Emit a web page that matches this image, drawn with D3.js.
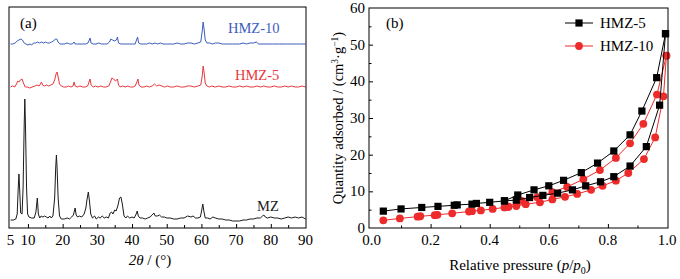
<!DOCTYPE html>
<html>
<head>
<meta charset="utf-8">
<script src="https://cdn.jsdelivr.net/npm/d3@7/dist/d3.min.js"></script>
<style>
  body { margin: 0; background: #fff; }
  svg { display: block; font-family: "Liberation Serif", "DejaVu Serif", serif; }
</style>
</head>
<body>
<svg id="chart" width="680" height="279"></svg>
<script>
// ---- panel (a): XRD patterns, [2theta, intensity a.u.] ----
const xrdMZ = [[5,8],[5.8,8],[6.5,9],[6.9,14],[7.2,40],[7.4,54],[7.6,40],[7.9,15],[8.3,14],[8.6,40],[8.9,100],[9.1,129],[9.3,100],[9.6,40],[9.9,14],[10.3,11],[11,10],[11.8,10],[12.3,16],[12.7,30],[13.0,14],[13.4,10],[13.8,12],[14.3,11],[14.8,12],[15.3,11],[15.8,10],[16.3,12],[16.7,10],[17.2,12],[17.7,30],[18.0,60],[18.2,73],[18.4,60],[18.7,30],[19.1,12],[19.6,9],[20.5,9],[21.3,10],[22,9],[22.6,11],[23.1,13],[23.6,20],[23.9,13],[24.3,11],[24.8,12],[25.5,11],[26.2,14],[26.7,20],[27.0,28],[27.4,36],[27.7,28],[28.1,14],[28.6,10],[29.2,12],[29.7,9],[30.3,11],[30.8,10],[31.4,12],[32,10],[32.6,11],[33.2,10],[33.7,15],[34.1,16],[34.5,14],[35.0,18],[35.4,17],[35.9,22],[36.4,30],[36.8,31],[37.2,24],[37.7,12],[38.2,10],[38.7,12],[39.3,10],[40.0,11],[40.6,10],[41.2,14],[41.5,17],[41.8,12],[42.3,10],[43,10],[43.8,9],[44.5,10],[45.2,11],[45.8,13],[46.3,15],[46.7,12],[47.3,12],[47.9,13],[48.5,11],[49.3,11],[50,10],[51,10],[52,9],[53,9],[54,10],[55,10],[56,12],[57,11],[57.6,12],[58.3,10],[59,10],[59.7,11],[60.1,18],[60.4,24],[60.7,17],[61.1,10],[61.8,10],[62.5,9],[63.3,11],[64,10],[65,9],[66,9],[67,8],[68,8],[69,7],[70,7],[71,7],[72,8],[73,8],[74,9],[75,9],[76,10],[77,10],[77.6,12],[78,13],[78.4,11],[79,10],[80,11],[81,10],[82,10],[83,9],[84,10],[85,11],[86,10],[87,11],[88,10],[89,11],[90,9]];

const xrdHMZ5 = [[5,8],[5.6,9],[6.2,8],[6.7,11],[7.1,14],[7.4,13],[7.8,15],[8.3,16],[8.7,12],[9.2,8],[9.8,8],[10.5,7],[11.2,8],[12,9],[12.6,10],[13.2,9],[13.6,11],[13.9,13],[14.2,10],[14.8,9],[15.4,10],[16,9],[16.6,10],[17.2,11],[17.7,15],[18.1,21],[18.4,23],[18.7,18],[19.1,11],[19.6,9],[20.3,8],[21,8],[21.7,9],[22.4,8],[23,9],[23.3,13],[23.6,9],[24.2,8],[25,9],[25.8,8],[26.5,8],[27.2,9],[27.6,13],[27.9,16],[28.2,10],[28.8,8],[29.5,9],[30.2,8],[31,9],[31.8,8],[32.5,8],[33.3,9],[33.8,13],[34.2,17],[34.7,16],[35.2,14],[35.6,15],[35.8,16],[36.1,10],[36.6,8],[37.3,9],[38,8],[38.8,9],[39.5,8],[40.3,8],[40.9,9],[41.4,13],[41.7,16],[42.0,10],[42.6,8],[43.4,8],[44.2,9],[45,8],[45.8,9],[46.5,11],[47.1,9],[47.8,10],[48.6,9],[49.4,8],[50.2,9],[51,8],[52,8],[53,9],[54,8],[55,8],[56,9],[57,9],[58,8],[59,9],[59.8,10],[60.2,18],[60.5,29],[60.8,22],[61.1,12],[61.6,9],[62.3,8],[63,9],[64,8],[65,9],[66,8],[67,8],[68,9],[69,8],[70,8],[71,9],[72,8],[73,9],[74,8],[75,8],[76,9],[77,8],[78,9],[79,8],[80,8],[81,9],[82,8],[83,8],[84,9],[85,8],[86,9],[87,8],[88,8],[89,9],[90,8]];

const xrdHMZ10 = [[5,8],[5.6,8],[6.3,9],[6.9,11],[7.4,12],[8.0,13],[8.4,12],[8.9,9],[9.4,8],[10,7],[10.6,8],[11.1,7],[11.6,9],[12.2,9],[12.8,10],[13.4,9],[14,10],[14.5,9],[15.1,10],[15.6,9],[16.2,9],[16.8,10],[17.4,11],[17.9,13],[18.3,13],[18.7,10],[19.2,8],[19.8,8],[20.5,8],[21.3,9],[22,8],[22.8,8],[23.3,10],[23.6,8],[24.3,8],[25,8],[25.8,8],[26.6,8],[27.3,9],[27.7,12],[27.9,14],[28.2,9],[28.8,8],[29.6,8],[30.4,9],[31.2,8],[32,8],[32.8,8],[33.5,10],[33.9,13],[34.4,12],[34.9,11],[35.5,12],[35.8,15],[36.1,9],[36.8,8],[37.6,8],[38.5,8],[39.3,8],[40.2,8],[40.9,8],[41.3,12],[41.6,15],[41.9,9],[42.5,8],[43.4,8],[44.2,8],[45,9],[45.8,8],[46.6,9],[47.4,8],[48.2,9],[49,8],[50,8],[51,8],[52,8],[53,9],[54,8],[55,8],[56,9],[57,9],[58,8],[59,9],[59.8,10],[60.2,20],[60.5,30],[60.8,22],[61.1,12],[61.6,9],[62.4,9],[63.2,8],[64,9],[65,9],[66,8],[67,8],[68,8],[69,8],[70,8],[71,8],[72,9],[73,8],[74,9],[75,9],[75.8,10],[76.5,8],[77.5,8],[78.5,8],[79.5,8],[80.5,8],[81.5,8],[82.5,8],[83.5,8],[84.5,8],[85.5,8],[86.5,8],[87.5,8],[88.5,8],[89.5,8],[90,8]];

const xrdNames = ["MZ", "HMZ-5", "HMZ-10"];
const xrdOffsets = [0, 133, 176];
const xrdTicks = [5, 10, 20, 30, 40, 50, 60, 70, 80, 90];

// ---- panel (b): N2 isotherms, relative pressure / quantity adsorbed ----
const hmz5AdsP = [0.04,0.10,0.17,0.225,0.28,0.29,0.34,0.355,0.40,0.45,0.49,0.535,0.58,0.63,0.68,0.725,0.775,0.82,0.875,0.93,0.975,0.995];
const hmz5AdsQ = [4.6,5.2,5.6,5.9,6.2,6.3,6.5,6.7,7.0,7.4,7.6,8.3,8.9,9.5,10.4,11.5,12.6,14.0,16.9,22.2,33.5,53];
const hmz5DesP = [0.995,0.965,0.915,0.875,0.82,0.765,0.71,0.65,0.60,0.55,0.495,0.45];
const hmz5DesQ = [53,41,31.9,25.4,21,17.7,15.1,13,11.5,10.4,9.0,7.4];

const hmz10AdsP = [0.04,0.096,0.156,0.165,0.214,0.223,0.273,0.33,0.34,0.37,0.41,0.45,0.463,0.49,0.522,0.57,0.612,0.655,0.696,0.743,0.782,0.827,0.869,0.922,0.96,0.988,0.998];
const hmz10AdsQ = [2.1,2.6,3.1,3.2,3.5,3.6,4.0,4.5,4.6,4.8,5.2,5.6,5.8,6.0,6.5,7.0,7.8,8.5,9.3,10.4,11.5,12.9,15.0,18.8,24.7,35.9,47];
const hmz10DesP = [0.998,0.966,0.92,0.875,0.827,0.773,0.717,0.662,0.612,0.561,0.508,0.463];
const hmz10DesQ = [47,36.4,28.4,23.1,19.1,15.8,13.3,11.2,9.8,8.4,7.4,5.8];

const isoTicksX = [0, 0.2, 0.4, 0.6, 0.8, 1.0];
const isoTicksY = [0, 10, 20, 30, 40, 50, 60];

const svg = d3.select("#chart");

// ================= panel (a) =================
const ax = d3.scaleLinear().domain([5, 90]).range([10.6, 305.5]);
const ay = d3.scaleLinear().domain([0, 221]).range([228, 7]);
const aColors = ["#1a1a1a", "#e8383d", "#3b5dbd"];

const pa = svg.append("g");

// ticks inward
const aTickAxis = d3.axisTop(ax)
    .tickValues(d3.range(10, 90, 5))
    .tickSize(4).tickFormat("");
pa.append("g").attr("transform", "translate(0,228)").call(aTickAxis)
    .call(g => g.select(".domain").remove())
    .call(g => g.selectAll("line").attr("stroke", "#000")
        .attr("y2", d => d % 10 === 0 ? -4 : -3));

pa.selectAll(".alab").data(xrdTicks).enter().append("text")
    .attr("x", d => ax(d))
    .attr("y", 245)
    .attr("text-anchor", "middle")
    .attr("font-size", 15)
    .text(d => d);

const aLine = d3.line().x(d => ax(d[0])).y(d => ay(d[1]));
[xrdMZ, xrdHMZ5, xrdHMZ10].forEach((s, i) => {
  pa.append("path")
      .datum(s.map(d => [d[0], d[1] + xrdOffsets[i]]))
      .attr("fill", "none")
      .attr("stroke", aColors[i])
      .attr("stroke-width", 1)
      .attr("d", aLine);
});

const aLabels = [{x: 257, y: 211}, {x: 235, y: 80}, {x: 228, y: 33}];
aLabels.forEach((p, i) => {
  pa.append("text").attr("x", p.x).attr("y", p.y)
      .attr("font-size", 14.5).attr("fill", aColors[i])
      .text(xrdNames[i]);
});

pa.append("rect").attr("x", 9).attr("y", 7).attr("width", 297).attr("height", 221)
    .attr("fill", "none").attr("stroke", "#000").attr("stroke-width", 1);

pa.append("text").attr("x", 20).attr("y", 28).attr("font-size", 15).text("(a)");

const aTitle = pa.append("text").attr("x", 150).attr("y", 265)
    .attr("text-anchor", "middle").attr("font-size", 15);
aTitle.append("tspan").attr("font-style", "italic").text("2θ");
aTitle.append("tspan").text(" / (°)");

// ================= panel (b) =================
const bx = d3.scaleLinear().domain([0, 1]).range([371.5, 667]);
const by = d3.scaleLinear().domain([0, 60]).range([228, 8]);

const pb = svg.append("g");

pb.append("g").attr("transform", "translate(0,228)")
    .call(d3.axisTop(bx).tickValues(d3.range(0.1, 1.0, 0.1)).tickSize(4).tickFormat(""))
    .call(g => g.select(".domain").remove())
    .call(g => g.selectAll("line").attr("stroke", "#000")
        .attr("y2", (d, i) => i % 2 === 1 ? -4 : -2.5));

pb.append("g").attr("transform", "translate(369,0)")
    .call(d3.axisRight(by).tickValues(d3.range(5, 60, 5)).tickSize(4).tickFormat(""))
    .call(g => g.select(".domain").remove())
    .call(g => g.selectAll("line").attr("stroke", "#000")
        .attr("x2", d => d % 10 === 0 ? 4 : 2.5));

pb.selectAll(".bxl").data(isoTicksX).enter().append("text")
    .attr("x", d => bx(d)).attr("y", 245)
    .attr("text-anchor", "middle").attr("font-size", 15)
    .text(d => d.toFixed(1));

pb.selectAll(".byl").data(isoTicksY).enter().append("text")
    .attr("x", 365).attr("y", d => by(d) + 5)
    .attr("text-anchor", "end").attr("font-size", 15)
    .text(d => d);

const bLine = d3.line().x(d => bx(d[0])).y(d => by(d[1]));
const isoSeries = [
  {name: "HMZ-5", color: "#000", shape: "square", branches: [[hmz5AdsP, hmz5AdsQ], [hmz5DesP, hmz5DesQ]]},
  {name: "HMZ-10", color: "#ee2b2b", shape: "circle", branches: [[hmz10AdsP, hmz10AdsQ], [hmz10DesP, hmz10DesQ]]}
];

function drawMarker(g, shape, color, x, y) {
  if (shape === "square") {
    g.append("rect").attr("x", x - 3.6).attr("y", y - 3.6)
        .attr("width", 7.2).attr("height", 7.2).attr("fill", color);
  } else {
    g.append("circle").attr("cx", x).attr("cy", y).attr("r", 3.9).attr("fill", color);
  }
}

// draw red first so black sits on top where they meet
[isoSeries[1], isoSeries[0]].forEach(s => {
  const g = pb.append("g");
  s.branches.forEach(([ps, qs]) => {
    const pts = ps.map((p, i) => [p, qs[i]]);
    g.append("path").datum(pts).attr("fill", "none")
        .attr("stroke", s.color).attr("stroke-width", 1).attr("d", bLine);
    pts.forEach(d => drawMarker(g, s.shape, s.color, bx(d[0]), by(d[1])));
  });
});

// legend
isoSeries.forEach((s, i) => {
  const ly = 23 + i * 23;
  pb.append("line").attr("x1", 565).attr("x2", 593).attr("y1", ly).attr("y2", ly)
      .attr("stroke", s.color).attr("stroke-width", 1);
  drawMarker(pb, s.shape, s.color, 579, ly);
  pb.append("text").attr("x", 600).attr("y", ly + 5).attr("font-size", 15).text(s.name);
});

pb.append("rect").attr("x", 369).attr("y", 8).attr("width", 299).attr("height", 220)
    .attr("fill", "none").attr("stroke", "#000").attr("stroke-width", 1);

pb.append("text").attr("x", 386).attr("y", 28).attr("font-size", 15).text("(b)");

const bxTitle = pb.append("text").attr("x", 520).attr("y", 270)
    .attr("text-anchor", "middle").attr("font-size", 15);
bxTitle.append("tspan").text("Relative pressure (");
bxTitle.append("tspan").attr("font-style", "italic").text("p");
bxTitle.append("tspan").text("/");
bxTitle.append("tspan").attr("font-style", "italic").text("p");
bxTitle.append("tspan").attr("font-size", 10).attr("dy", 4).text("0");
bxTitle.append("tspan").attr("dy", -4).text(")");

const byTitle = pb.append("text")
    .attr("transform", "translate(343,118) rotate(-90)")
    .attr("text-anchor", "middle").attr("font-size", 14.5);
byTitle.append("tspan").text("Quantity adsorbed / (cm");
byTitle.append("tspan").attr("font-size", 9.5).attr("dy", -5).text("3");
byTitle.append("tspan").attr("dy", 5).text("·g");
byTitle.append("tspan").attr("font-size", 9.5).attr("dy", -5).text("−1");
byTitle.append("tspan").attr("dy", 5).text(")");
</script>
</body>
</html>
